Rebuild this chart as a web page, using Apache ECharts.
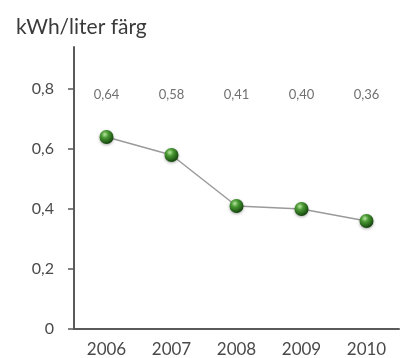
<!DOCTYPE html>
<html>
<head>
<meta charset="utf-8">
<script src="https://cdn.jsdelivr.net/npm/echarts@6/dist/echarts.min.js"></script>
<style>
  html, body { margin: 0; padding: 0; background: #fff; }
  #chart { width: 404px; height: 358px; }
</style>
</head>
<body>
<div id="chart"></div>
<script>
// Energy use per litre of paint, by year
const years = ['2006', '2007', '2008', '2009', '2010'];
const kwhPerLiter = [0.64, 0.58, 0.41, 0.40, 0.36];
const yTicks = [0, 0.2, 0.4, 0.6, 0.8];
const unitTitle = 'kWh/liter färg';

const valueText = v => v.toFixed(2).replace('.', ',');
const tickText = v => (v === 0 ? '0' : v.toFixed(1).replace('.', ','));

const FONT = 'Lato, "Open Sans", sans-serif';

const chart = echarts.init(document.getElementById('chart'), null, { renderer: 'canvas' });

chart.setOption({
  animation: false,
  backgroundColor: '#ffffff',
  title: {
    text: unitTitle,
    left: 11,
    top: 12,
    textStyle: { fontFamily: FONT, fontSize: 21, fontWeight: 'normal', color: '#3a3a3a' }
  },
  grid: { left: 74, right: 5, top: 47, bottom: 29 },
  xAxis: [
    {
      type: 'category',
      data: years,
      boundaryGap: true,
      axisLine: { lineStyle: { color: '#5a5a5a', width: 2 } },
      axisTick: { show: false },
      axisLabel: { fontFamily: FONT, fontSize: 17, color: '#4a4a4a', margin: 12 }
    },
    {
      // value annotations shown as a row across the top of the plot
      type: 'category',
      data: years,
      position: 'top',
      boundaryGap: true,
      axisLine: { show: false },
      axisTick: { show: false },
      axisLabel: {
        inside: true,
        margin: 41,
        fontFamily: FONT,
        fontSize: 13,
        color: '#707070',
        formatter: (val, idx) => valueText(kwhPerLiter[idx])
      }
    }
  ],
  yAxis: {
    type: 'value',
    min: 0,
    max: 0.94,
    interval: 0.2,
    splitLine: { show: false },
    axisLine: { show: true, lineStyle: { color: '#5a5a5a', width: 2 } },
    axisTick: { show: true, length: 6, customValues: yTicks, lineStyle: { color: '#5a5a5a', width: 1.5 } },
    axisLabel: {
      customValues: yTicks,
      fontFamily: FONT,
      fontSize: 16,
      color: '#4a4a4a',
      margin: 20,
      formatter: tickText
    }
  },
  series: [
    {
      type: 'line',
      xAxisIndex: 0,
      data: kwhPerLiter,
      symbol: 'circle',
      symbolSize: 14,
      lineStyle: { color: '#9a9a9a', width: 1.5 },
      itemStyle: {
        color: {
          type: 'radial', x: 0.38, y: 0.32, r: 0.7,
          colorStops: [
            { offset: 0, color: '#b9e6a2' },
            { offset: 0.35, color: '#4a9a34' },
            { offset: 1, color: '#12420c' }
          ]
        },
        shadowColor: 'rgba(0,0,0,0.35)',
        shadowBlur: 3,
        shadowOffsetY: 1
      },
      label: { show: false }
    }
  ]
});
</script>
</body>
</html>
